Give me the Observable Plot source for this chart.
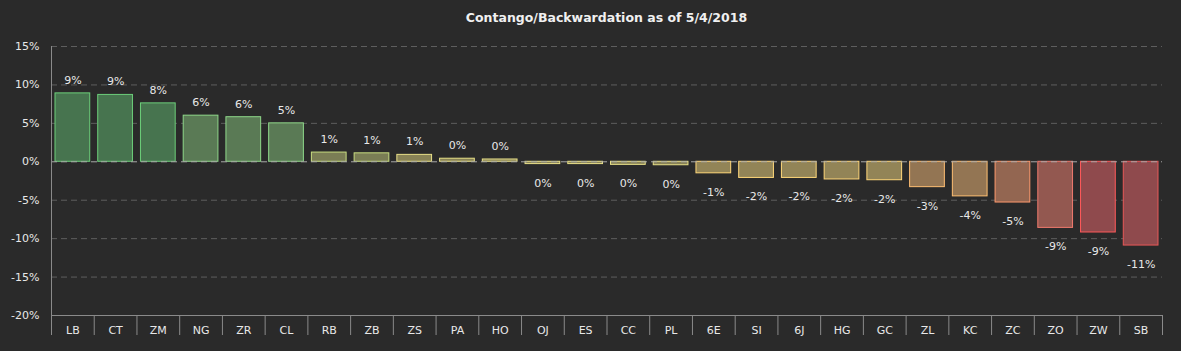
<!DOCTYPE html>
<html>
<head>
<meta charset="utf-8">
<script src="https://cdn.jsdelivr.net/npm/d3@7"></script>
<script src="https://cdn.jsdelivr.net/npm/@observablehq/plot@0.6"></script>
<style>
  html, body { margin: 0; padding: 0; background: #2a2a2a; }
  #title {
    height: 30px; line-height: 35px; box-sizing: border-box;
    padding-left: 51px; padding-right: 19px; text-align: center;
    font-family: "DejaVu Sans", sans-serif; font-weight: bold; font-size: 12.5px;
    color: #f0f0f0; white-space: nowrap;
  }
</style>
</head>
<body>
<div id="title">Contango/Backwardation as of 5/4/2018</div>
<div id="chart"></div>
<script>
const categories = ["LB","CT","ZM","NG","ZR","CL","RB","ZB","ZS","PA","HO","OJ","ES","CC","PL","6E","SI","6J","HG","GC","ZL","KC","ZC","ZO","ZW","SB"];
const values = [8.9, 8.7, 7.6, 6.0, 5.8, 5.0, 1.2, 1.1, 0.9, 0.4, 0.3, -0.3, -0.3, -0.4, -0.45, -1.5, -2.1, -2.1, -2.3, -2.4, -3.3, -4.5, -5.3, -8.6, -9.2, -10.9];
const yTicks = [-20, -15, -10, -5, 0, 5, 10, 15];

const fills = ["#47744f","#47744f","#47744f","#5a7a55","#5a7a55","#5a7a55","#7a7d55","#7a7d55","#888256","#888256","#888256","#888256","#888256","#888256","#888256","#928457","#928457","#928457","#928457","#928457","#937553","#937553","#936651","#935850","#8f4a4d","#8f4a4d"];
const strokes = ["#6ccf7a","#6ccf7a","#6ccf7a","#8fd88a","#8fd88a","#8fd88a","#c8dc80","#c8dc80","#e8e088","#e8e088","#e8e088","#e8e088","#e8e088","#e8e088","#e8e088","#ffd77a","#ffd77a","#ffd77a","#ffd77a","#ffd77a","#ffbf73","#ffbf73","#ff9a6e","#f07a6e","#ff5a5a","#e85858"];

const data = categories.map((c, i) => ({cat: c, value: values[i], fill: fills[i], stroke: strokes[i]}));

const W = 1181, H = 321, ML = 51, MR = 19, MT = 16, MB = 36;
const bw = (W - ML - MR) / categories.length;
const gridColor = "#5e5e5e";
const axisColor = "#8a8a8a";
const textColor = "#e8e8e8";

const chart = Plot.plot({
  width: W,
  height: H,
  marginLeft: ML,
  marginRight: MR,
  marginTop: MT,
  marginBottom: MB,
  style: {background: "#2a2a2a", color: textColor, fontFamily: "DejaVu Sans, sans-serif", fontSize: "11px"},
  x: {domain: categories, padding: 0, round: false, label: null},
  y: {domain: [-20, 15], label: null},
  marks: [
    Plot.gridY({ticks: yTicks.filter(t => t !== 0 && t !== -20), stroke: gridColor, strokeOpacity: 1, strokeDasharray: "6,4"}),
    Plot.barY(data, {x: "cat", y: "value", fill: "fill", stroke: "stroke", strokeWidth: 1, insetLeft: 4, insetRight: 4}),
    Plot.ruleY([0], {stroke: "#a8a8a8", strokeDasharray: "6,4"}),
    Plot.ruleY([-20], {stroke: axisColor}),
    Plot.ruleX([categories[0]], {dx: -bw / 2, stroke: axisColor}),
    Plot.axisY({ticks: yTicks, tickSize: 0, tickPadding: 12, tickFormat: d => d + "%", fill: textColor}),
    Plot.axisX({ticks: categories, tickSize: 20, tickFormat: () => "", dx: -bw / 2, stroke: axisColor}),
    Plot.axisX({ticks: [categories[categories.length - 1]], tickSize: 20, tickFormat: () => "", dx: bw / 2, stroke: axisColor}),
    Plot.axisX({ticks: categories, tickSize: 0, tickPadding: 11, fill: textColor}),
    Plot.text(data.filter(d => d.value >= 0), {x: "cat", y: "value", text: d => `${Math.round(d.value)}%`, dy: -13, fill: textColor}),
    Plot.text(data.filter(d => d.value < 0), {x: "cat", y: "value", text: d => `${Math.round(d.value)}%`, dy: 19, fill: textColor})
  ]
});
document.getElementById("chart").appendChild(chart);
</script>
</body>
</html>
